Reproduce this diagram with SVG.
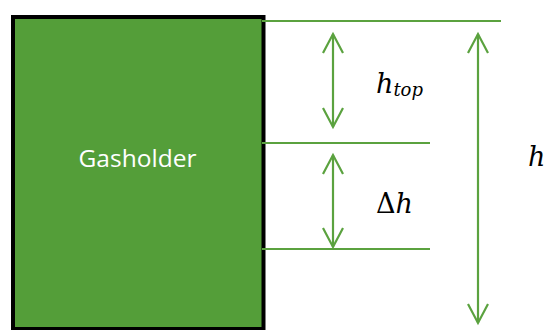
<svg xmlns="http://www.w3.org/2000/svg" width="544" height="330" viewBox="0 0 544 330">
<style>
.ln{stroke:#5BA23F;stroke-width:2.2;fill:none}
.ah{stroke:#5BA23F;stroke-width:2.2;fill:none;stroke-linejoin:miter}
.m{font-family:"DejaVu Serif",serif;font-style:italic;fill:#000}
</style>
<g id="gasholder">
<rect x="13" y="17" width="250.5" height="312" fill="#549E39" stroke="#000" stroke-width="4"/>
<text x="137.5" y="166.5" font-family="Open Sans, sans-serif" font-size="23" fill="#fff" text-anchor="middle" textLength="118" lengthAdjust="spacingAndGlyphs">Gasholder</text>
</g>
<g id="connectors">
<line class="ln" x1="262" y1="21" x2="501" y2="21"/>
<line class="ln" x1="262" y1="143" x2="430" y2="143"/>
<line class="ln" x1="262" y1="249" x2="430" y2="249"/>
<line class="ln" x1="333" y1="34" x2="333" y2="127"/>
<path class="ah" d="M323,53 L333,34 L343,53"/>
<path class="ah" d="M323,108 L333,127 L343,108"/>
<line class="ln" x1="333" y1="155" x2="333" y2="247"/>
<path class="ah" d="M323,174 L333,155 L343,174"/>
<path class="ah" d="M323,228 L333,247 L343,228"/>
<line class="ln" x1="478" y1="34" x2="478" y2="323"/>
<path class="ah" d="M468,53 L478,34 L488,53"/>
<path class="ah" d="M468,304 L478,323 L488,304"/>
</g>
<g id="labels">
<text class="m" x="376" y="93" font-size="27">h<tspan font-size="18" dx="0" dy="3">top</tspan></text>
<text class="m" x="376" y="213" font-size="27"><tspan font-style="normal">Δ</tspan>h</text>
<text class="m" x="528" y="166" font-size="27">h</text>
</g>
</svg>
